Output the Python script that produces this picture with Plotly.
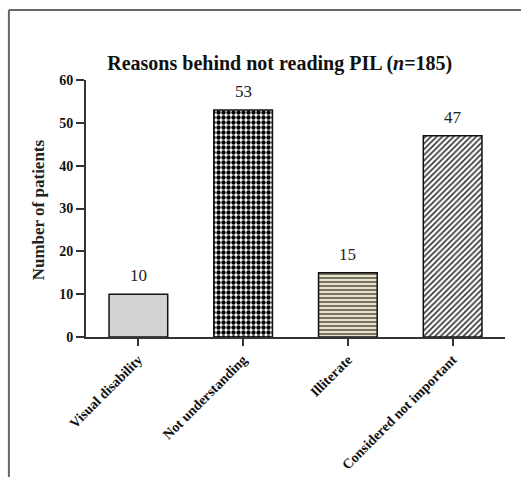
import plotly.graph_objects as go

# Reasons given by patients for not reading the PIL
reasons = ["Visual disability", "Not understanding", "Illiterate", "Considered not important"]
patients = [10, 53, 15, 47]
y_ticks = [0, 10, 20, 30, 40, 50, 60]

# Fill style for each bar
bar_colors = ["#d3d3d3", "#ffffff", "#e8e3cb", "#ffffff"]
pattern_shapes = ["", ".", "-", "/"]
pattern_fg = ["#000000", "#000000", "#2e2a1e", "#333333"]
pattern_size = [8, 5, 4, 4]
pattern_solid = [0.2, 0.6, 0.3, 0.4]

SERIF = "Liberation Serif"

fig = go.Figure()

# One trace per bar so each gets its own fill pattern
for i, (r, v) in enumerate(zip(reasons, patients)):
    pattern = dict(shape=pattern_shapes[i])
    if pattern_shapes[i]:
        pattern.update(
            fgcolor=pattern_fg[i],
            bgcolor=bar_colors[i],
            fgopacity=1,
            size=pattern_size[i],
            solidity=pattern_solid[i],
            fillmode="replace",
        )
    fig.add_trace(
        go.Bar(
            x=[r],
            y=[v],
            width=0.56,
            marker=dict(
                color=bar_colors[i],
                line=dict(color="#111111", width=1.5),
                pattern=pattern,
            ),
            hoverinfo="skip",
        )
    )

# Count printed above each bar
for r, v in zip(reasons, patients):
    fig.add_annotation(
        x=r, y=v, xref="x", yref="y",
        text=str(v), showarrow=False,
        yanchor="bottom", yshift=7,
        font=dict(family=SERIF, size=17, color="#222222"),
    )

# Y-axis title
fig.add_annotation(
    x=-0.114, y=0.494, xref="paper", yref="paper",
    text="<b>Number of patients</b>", showarrow=False,
    textangle=-90, xanchor="center", yanchor="middle",
    font=dict(family=SERIF, size=17, color="#222222"),
)

# Outer frame (top and left edges)
fig.add_shape(type="line", xref="paper", yref="paper",
              x0=-0.184, x1=1.05, y0=1.272, y1=1.272,
              line=dict(color="#666666", width=2))
fig.add_shape(type="line", xref="paper", yref="paper",
              x0=-0.184, x1=-0.184, y0=1.272, y1=-0.56,
              line=dict(color="#666666", width=2))

fig.update_layout(
    width=521,
    height=477,
    margin=dict(l=86, r=16, t=80, b=140),
    paper_bgcolor="white",
    plot_bgcolor="white",
    showlegend=False,
    barmode="overlay",
    title=dict(
        text="<b>Reasons behind not reading PIL (<i>n</i>=185)</b>",
        x=0.537, y=0.868, xref="container", yref="container",
        xanchor="center", yanchor="middle",
        font=dict(family=SERIF, size=20, color="#111111"),
    ),
    xaxis=dict(
        range=[-0.5, 3.5],
        categoryorder="array", categoryarray=reasons,
        automargin=False,
        showline=True, linecolor="#333333", linewidth=2,
        ticks="outside", ticklen=7, tickwidth=1.5, tickcolor="#333333",
        tickangle=-45,
        tickfont=dict(family=SERIF, size=14, color="#111111", weight="bold"),
        showgrid=False, zeroline=False,
    ),
    yaxis=dict(
        range=[0, 60],
        tickvals=y_ticks,
        automargin=False,
        showline=True, linecolor="#333333", linewidth=2,
        ticks="outside", ticklen=8, tickwidth=1.5, tickcolor="#333333",
        tickfont=dict(family=SERIF, size=14, color="#111111", weight="bold"),
        showgrid=False, zeroline=False,
    ),
)

fig.write_html("out.html")
